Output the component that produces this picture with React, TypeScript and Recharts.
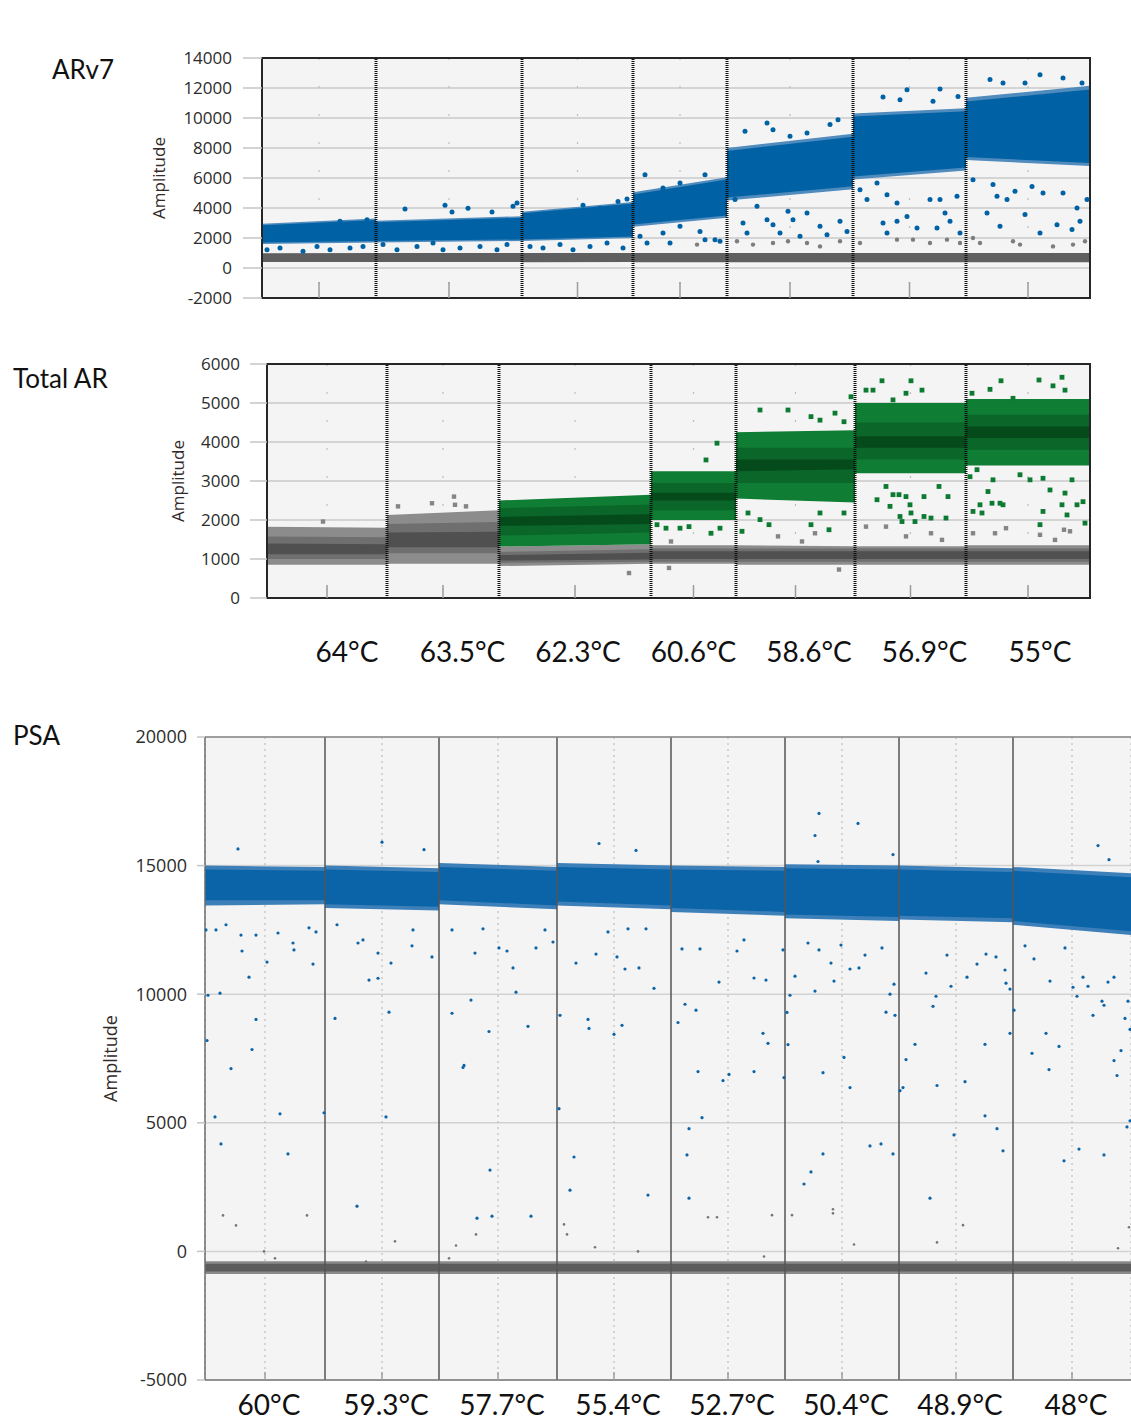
import React from "react";
import { ComposedChart, Area, Scatter, XAxis, YAxis, CartesianGrid, ReferenceLine, ReferenceArea } from "recharts";

// droplet event index where each well starts/ends
const AR_WELLS = [0, 11400, 26000, 37100, 46500, 59100, 70400, 82800];
const TA_WELLS = [0, 12000, 23200, 38400, 46900, 58800, 69900, 82300];
const PSA_WELLS = [0, 12000, 23400, 35200, 46600, 58000, 69400, 80800, 92600];

const TEMPS_AR = ["64°C", "63.5°C", "62.3°C", "60.6°C", "58.6°C", "56.9°C", "55°C"];
const TEMPS_PSA = ["60°C", "59.3°C", "57.7°C", "55.4°C", "52.7°C", "50.4°C", "48.9°C", "48°C"];

const AR_TICKS = [-2000, 0, 2000, 4000, 6000, 8000, 10000, 12000, 14000];
const TA_TICKS = [0, 1000, 2000, 3000, 4000, 5000, 6000];
const PSA_TICKS = [-5000, 0, 5000, 10000, 15000, 20000];

// cluster bands per well: [lo at start, lo at end, hi at start, hi at end]
type Seg = number[] | null;
const AR_POS_EDGE: Seg[] = [[1600, 1700, 2950, 3300], [1700, 1800, 3150, 3450], [1800, 2000, 3750, 4400], [2750, 3350, 5050, 6050], [4500, 5250, 8000, 8950], [5900, 6500, 10300, 10650], [7200, 6800, 11350, 12150]];
const AR_POS: Seg[] = [[1700, 1800, 2850, 3200], [1800, 1900, 3050, 3350], [1900, 2100, 3650, 4300], [2900, 3500, 4900, 5900], [4700, 5450, 7800, 8750], [6100, 6700, 10100, 10450], [7400, 7000, 11100, 11900]];
const AR_NEG: Seg[] = [[400, 400, 980, 1000], [400, 400, 1000, 1000], [380, 400, 1000, 1000], [380, 380, 1000, 1000], [380, 380, 1000, 1000], [380, 380, 1000, 1000], [380, 380, 1000, 1000]];

const TA_NEG_OUTER: Seg[] = [[850, 850, 1830, 1800], [880, 880, 2130, 2250], [820, 880, 1320, 1380], [880, 880, 1350, 1350], [850, 850, 1350, 1330], [850, 850, 1330, 1330], [850, 850, 1350, 1350]];
const TA_NEG_MID: Seg[] = [[1000, 1000, 1580, 1560], [1150, 1150, 1900, 1950], [900, 930, 1180, 1250], [930, 930, 1270, 1270], [930, 930, 1270, 1270], [930, 930, 1270, 1270], [930, 930, 1270, 1270]];
const TA_NEG_CORE: Seg[] = [[1120, 1120, 1400, 1380], [1300, 1300, 1680, 1700], [960, 990, 1100, 1160], [1000, 1000, 1200, 1200], [1000, 1000, 1200, 1200], [1000, 1000, 1200, 1200], [1000, 1000, 1200, 1200]];
const TA_POS_OUTER: Seg[] = [null, null, [1320, 1380, 2500, 2650], [2000, 2000, 3250, 3250], [2550, 2450, 4250, 4300], [3200, 3200, 5000, 5000], [3400, 3400, 5100, 5100]];
const TA_POS_MID: Seg[] = [null, null, [1600, 1680, 2300, 2400], [2250, 2250, 2950, 2950], [2950, 2950, 3850, 3850], [3550, 3550, 4500, 4500], [3800, 3800, 4700, 4700]];
const TA_POS_CORE: Seg[] = [null, null, [1850, 1900, 2080, 2150], [2500, 2500, 2700, 2700], [3250, 3300, 3550, 3550], [3850, 3850, 4150, 4150], [4100, 4100, 4400, 4400]];

const PSA_POS_OUTER: Seg[] = [[13450, 13500, 15000, 14950], [13350, 13250, 15000, 14900], [13500, 13300, 15100, 14950], [13450, 13300, 15100, 15000], [13200, 13050, 15000, 14950], [12950, 12850, 15050, 15000], [12900, 12800, 15000, 14900], [12700, 12300, 14950, 14700]];
const PSA_POS_CORE: Seg[] = [[13650, 13650, 14850, 14800], [13500, 13400, 14850, 14750], [13650, 13450, 14950, 14800], [13600, 13450, 14950, 14850], [13350, 13200, 14850, 14800], [13100, 13000, 14900, 14850], [13050, 12950, 14850, 14750], [12850, 12450, 14800, 14550]];
const PSA_NEG_OUTER: Seg[] = PSA_WELLS.slice(1).map(() => [-880, -880, -380, -380]);
const PSA_NEG_CORE: Seg[] = PSA_WELLS.slice(1).map(() => [-780, -780, -480, -480]);

// individual droplets outside the dense clusters: [event, amplitude]
const AR_POS_OUT = [[14300, 3930], [18300, 4180], [19000, 3730], [20600, 3990], [23000, 3730], [25100, 4110], [25500, 4330], [7800, 3110], [10500, 3220], [35600, 4440], [36500, 4600], [32100, 4180], [33800, 3990],
  [500, 1220], [1800, 1330], [4100, 1110], [5500, 1440], [6800, 1220], [8800, 1330], [10100, 1440], [12100, 1560], [13500, 1220], [15500, 1440], [17100, 1670], [18100, 1220], [19800, 1330], [21800, 1440], [23500, 1220], [24500, 1560], [26800, 1440], [28100, 1330], [29800, 1560], [31100, 1220], [32800, 1440], [34500, 1670], [36100, 1330],
  [37800, 2110], [38500, 1670], [40100, 2330], [40800, 1670], [41800, 2780], [43800, 2440], [44300, 1890], [45300, 1890], [45800, 1780], [38300, 6220], [40100, 5330], [41800, 5670], [44300, 6220],
  [48300, 9110], [50500, 9670], [51100, 9220], [52800, 8780], [54500, 9000], [56800, 9560], [57600, 9890], [47300, 4560], [48100, 3000], [48500, 2330], [49500, 4110], [50500, 3220], [51100, 2890], [51800, 2330], [53100, 3220], [53800, 2110], [54500, 3670], [55800, 2780], [56500, 2220], [57800, 3110], [58500, 2440], [52600, 3780],
  [62100, 11400], [63800, 11220], [64500, 11890], [67100, 11110], [67800, 11930], [69600, 11440], [59800, 5220], [60500, 4560], [61500, 5670], [62500, 4890], [63500, 4330], [62100, 3000], [63500, 3110], [62500, 2330], [64500, 3440], [65500, 2670], [66800, 4560], [67800, 4560], [68300, 3670], [68800, 3110], [69500, 4780], [69800, 2330], [67500, 2670],
  [72800, 12560], [74100, 12330], [76300, 12330], [77800, 12890], [80100, 12670], [82000, 12330], [71100, 5890], [73100, 5560], [73500, 4780], [72500, 3670], [73800, 2780], [74500, 4560], [75300, 5110], [76300, 3560], [77000, 5440], [78100, 5000], [79500, 2890], [80100, 5000], [81000, 2560], [81500, 4000], [81800, 3110], [82500, 4560], [77800, 2330]];
const AR_NEG_OUT = [[47500, 1780], [49100, 1560], [51100, 1670], [52600, 1780], [54500, 1670], [55800, 1440], [57800, 1780], [59800, 1670], [63500, 1890], [65100, 1890], [66800, 1670], [68500, 1890], [69800, 1670], [71100, 2000], [71800, 1670], [75100, 1780], [75800, 1560], [79100, 1440], [81100, 1560], [82300, 1780], [43500, 1560]];

const TA_POS_OUT = [[45000, 3970], [43900, 3540], [39900, 1790], [41300, 1790], [42200, 1830], [45300, 1790], [39000, 1880], [44400, 1660],
  [49300, 4820], [52100, 4820], [54400, 4650], [55300, 4560], [56800, 4740], [57700, 4520], [58400, 5160], [48100, 2180], [49300, 2010], [50200, 1880], [54400, 1880], [55300, 2180], [56200, 1750], [57700, 2180], [47500, 1710],
  [59900, 5330], [60600, 5330], [61500, 5570], [62600, 5080], [63900, 5250], [64400, 5570], [65500, 5330], [61900, 2860], [62600, 2650], [63200, 2650], [63900, 2600], [64300, 2390], [65700, 2600], [67200, 2860], [68100, 2600], [61000, 2520], [62300, 2350], [63300, 2090], [64400, 2180], [64800, 1960], [65700, 2090], [66400, 2050], [67900, 2050], [63500, 1960],
  [73400, 5570], [77200, 5590], [79500, 5660], [78600, 5440], [79800, 5330], [72300, 5350], [70500, 5250], [74600, 5120], [75300, 3160], [70300, 3110], [71000, 3290], [72600, 3030], [76300, 3030], [77600, 3070], [80500, 3030], [72100, 2730], [72500, 2430], [71300, 2390], [73300, 2430], [73600, 2390], [70600, 2220], [71500, 2180], [78300, 2770], [79800, 2690], [79500, 2390], [80000, 2130], [81000, 2390], [81600, 2470], [77600, 2220], [77300, 1880], [81800, 1920]];
const TA_NEG_OUT = [[5600, 1960], [13100, 2350], [16500, 2430], [18700, 2600], [18800, 2390], [19900, 2350], [51100, 1580], [53500, 1450], [54800, 1660], [59900, 1830], [61900, 1830], [63900, 1580], [66400, 1660], [67500, 1490], [70600, 1660], [72800, 1660], [73900, 1790], [79700, 1750], [80300, 1710], [40400, 1450], [36200, 640], [40200, 770], [57200, 730], [77300, 1620], [78800, 1490]];

const PSA_POS_OUT = [[100, 12500], [1100, 12500], [2100, 12700], [3600, 12300], [3700, 11680], [5100, 12300], [4400, 10660], [7300, 12380], [8800, 11990], [8900, 11720], [10400, 12580], [10800, 11170], [11100, 12420], [6200, 11250], [5100, 9020], [300, 9960], [1500, 10040], [200, 8200], [1000, 5230], [1600, 4180], [2600, 7110], [4700, 7850], [7500, 5350], [8300, 3790], [11900, 5390], [3300, 15650],
  [13000, 9060], [13200, 12700], [15300, 11990], [15800, 12110], [17300, 11600], [17300, 10620], [16400, 10550], [18400, 9300], [18600, 11210], [20700, 11880], [22700, 11450], [20800, 12500], [15200, 1760], [18100, 5230], [17700, 15910], [21900, 15620],
  [24700, 12500], [24700, 9260], [26600, 9770], [27000, 11600], [27800, 12540], [28400, 8550], [29400, 11800], [30200, 11680], [30800, 11020], [31100, 10080], [32300, 8750], [33100, 11800], [34000, 12500], [34800, 12030], [25800, 7150], [25900, 7230], [28500, 3160], [27200, 1290], [28700, 1370], [32600, 1370],
  [35400, 5550], [36900, 3670], [36500, 2380], [44300, 2190], [35500, 9180], [37100, 11210], [39100, 11560], [41200, 11450], [42000, 10980], [43400, 11020], [44900, 10230], [38300, 9020], [38400, 8670], [40900, 8440], [41700, 8790], [40300, 12420], [42300, 12540], [44100, 12540], [39400, 15860], [43100, 15590],
  [47300, 8900], [48000, 9610], [49100, 9380], [47700, 11760], [49500, 11760], [51400, 10470], [53200, 11680], [54900, 10630], [56100, 10550], [55800, 8480], [56300, 8090], [57800, 11720], [53900, 12110], [49300, 6990], [49700, 5200], [48400, 4770], [48200, 3750], [48400, 2070], [51800, 6640], [52400, 6880], [54900, 6990], [57900, 6760],
  [61400, 17030], [61000, 16170], [65300, 16640], [61300, 15160], [60300, 11990], [61400, 11720], [62600, 11210], [63600, 11910], [64500, 10980], [65400, 11020], [66000, 11520], [67700, 11800], [62900, 10510], [61000, 10120], [58500, 9960], [59000, 10700], [58200, 9290], [68100, 9300], [68500, 10000], [69000, 9180], [68900, 10390], [68800, 15430], [58300, 8040], [59900, 2620], [60600, 3090], [61800, 3790], [61800, 6950], [63900, 7540], [64500, 6370], [66500, 4100], [67600, 4180], [68800, 3790],
  [71000, 8050], [72100, 10820], [73100, 9920], [72800, 9530], [74200, 11520], [74600, 10310], [76200, 10660], [77200, 11170], [78000, 8050], [78100, 11560], [79100, 11450], [80000, 10940], [80100, 10430], [80500, 10200], [80500, 8480], [69500, 6250], [69800, 6370], [70100, 7460], [72500, 2070], [73200, 6450], [74900, 4530], [76000, 6600], [78000, 5270], [79200, 4770], [79800, 3910],
  [80900, 9380], [82000, 11880], [82900, 11370], [84500, 10510], [84100, 8480], [86000, 11800], [86800, 10270], [87200, 9920], [87800, 10660], [88300, 10310], [88800, 9180], [89700, 9730], [89900, 9570], [90300, 10470], [89300, 15780], [90400, 15230], [92000, 9060], [92500, 8630], [92300, 9730], [90900, 10660], [82700, 7700], [84400, 7070], [85400, 7970], [85900, 3520], [87400, 3980], [89900, 3750], [90900, 7420], [91200, 6840], [91600, 7810], [92200, 4840], [92500, 5080]];
const PSA_NEG_OUT = [[1800, 1400], [3100, 1010], [10200, 1400], [5900, 0], [7000, -270], [19000, 390], [16100, -390], [27100, 660], [25100, 230], [24400, -270], [35900, 1050], [36200, 660], [39000, 160], [43300, 0], [50300, 1330], [51200, 1330], [56700, 1410], [55900, -200], [62800, 1640], [62800, 1480], [58700, 1410], [64900, 270], [75800, 1020], [73200, 350], [91300, 120], [92400, 940]];

const TICK_FONT = "'Open Sans', 'DejaVu Sans', sans-serif";
const LABEL_FONT = "Lato, 'Open Sans', sans-serif";

function buildRows(wells: number[], layers: Record<string, Seg[]>) {
  const rows: any[] = [];
  for (let i = 0; i < wells.length - 1; i++) {
    const s: any = { e: wells[i] };
    const t: any = { e: wells[i + 1] };
    for (const k of Object.keys(layers)) {
      const seg = layers[k][i];
      s[k] = seg ? [seg[0], seg[2]] : null;
      t[k] = seg ? [seg[1], seg[3]] : null;
    }
    rows.push(s, t);
  }
  return rows;
}
const mids = (w: number[]) => w.slice(0, -1).map((v, i) => (v + w[i + 1]) / 2);
const toPts = (arr: number[][]) => arr.map(([e, a]) => ({ e, a }));

const dotShape = (color: string, r: number, square = false) => (p: any) =>
  square
    ? <rect x={p.cx - r} y={p.cy - r} width={r * 2} height={r * 2} fill={color} />
    : <circle cx={p.cx} cy={p.cy} r={r} fill={color} />;

const AxisTitle = ({ viewBox, cx, size }: any) => {
  const cy = viewBox.y + viewBox.height / 2;
  return (
    <text x={cx} y={cy} transform={`rotate(-90 ${cx} ${cy})`} textAnchor="middle" dominantBaseline="central"
      fontSize={size} fontFamily={TICK_FONT} fill="#332a2a">Amplitude</text>
  );
};

const InnerTick = ({ x, y, index, len, labels }: any) => (
  <g>
    <line x1={x} x2={x} y1={y - len} y2={y} stroke="#9c9c9c" strokeWidth={1.5} />
    {labels && (
      <text x={x + 4} y={y + 35} textAnchor="middle" fontSize={28} fontFamily={LABEL_FONT} fill="#111">{labels[index]}</text>
    )}
  </g>
);

type Layer = { key: string; color: string };
type Dots = { data: number[][]; color: string; r: number; square?: boolean };

interface PanelProps {
  top: number; height: number;
  margin: { top: number; right: number; bottom: number; left: number };
  wells: number[]; yDomain: [number, number]; yTicks: number[];
  segs: Record<string, Seg[]>; layers: Layer[]; dots: Dots[];
  yTickSize: number; yTickMargin: number; yFont: number; titleX: number;
  gridColor: string; vDash: string; tickLen: number;
  sepStroke: string; sepWidth: number; sepDash?: string;
  frame: boolean; labels?: string[];
}

function Panel(p: PanelProps) {
  const rows = buildRows(p.wells, p.segs);
  const xMax = p.wells[p.wells.length - 1];
  return (
    <div style={{ position: "absolute", left: 0, top: p.top }}>
      <ComposedChart width={1131} height={p.height} data={rows} margin={p.margin}>
        <CartesianGrid horizontal vertical={false} stroke={p.gridColor} strokeWidth={1.5} fill="#f4f4f4" fillOpacity={1} />
        <CartesianGrid horizontal={false} vertical stroke="#bdbdbd" strokeWidth={1.2} strokeDasharray={p.vDash} />
        <XAxis type="number" dataKey="e" domain={[0, xMax]} ticks={mids(p.wells)} interval={0} allowDataOverflow
          height={1} tickSize={0} tickMargin={0} tickLine={false}
          axisLine={p.frame ? false : { stroke: "#7a7a7a", strokeWidth: 1.5 }}
          tick={(t: any) => <InnerTick {...t} len={p.tickLen} labels={p.labels} />} />
        <YAxis type="number" domain={p.yDomain} ticks={p.yTicks} interval={0} allowDataOverflow width={100}
          tickSize={p.yTickSize} tickMargin={p.yTickMargin}
          tickLine={{ stroke: "#c4c4c4", strokeWidth: 1.5 }}
          axisLine={p.frame ? false : { stroke: "#6c6c6c", strokeWidth: 1.5 }}
          tick={{ fontSize: p.yFont, fontFamily: TICK_FONT, fill: "#2c2c2c" }}
          label={<AxisTitle cx={p.titleX} size={p.yFont} />} />
        {p.layers.map((l) => (
          <Area key={l.key} dataKey={l.key} type="linear" stroke="none" fill={l.color} fillOpacity={1}
            dot={false} activeDot={false} isAnimationActive={false} />
        ))}
        {p.dots.map((d, i) => (
          <Scatter key={i} data={toPts(d.data)} dataKey="a" shape={dotShape(d.color, d.r, d.square)} isAnimationActive={false} />
        ))}
        {p.wells.slice(1, -1).map((b) => (
          <ReferenceLine key={b} x={b} stroke={p.sepStroke} strokeWidth={p.sepWidth} strokeDasharray={p.sepDash} />
        ))}
        {p.frame ? (
          <ReferenceArea x1={0} x2={xMax} y1={p.yDomain[0]} y2={p.yDomain[1]} fill="none" stroke="#262626" strokeWidth={2} />
        ) : (
          <ReferenceLine y={p.yDomain[1]} stroke="#8a8a8a" strokeWidth={1.5} />
        )}
      </ComposedChart>
    </div>
  );
}

const titleStyle: React.CSSProperties = { position: "absolute", fontFamily: LABEL_FONT, fontSize: 26, lineHeight: 1, color: "#111", whiteSpace: "nowrap" };

export default function App() {
  return (
    <div style={{ position: "absolute", left: 0, top: 0, width: 1131, height: 1420, overflow: "hidden", background: "#fff" }}>
      <Panel top={0} height={330} margin={{ top: 58, right: 41, bottom: 31, left: 162 }}
        wells={AR_WELLS} yDomain={[-2000, 14000]} yTicks={AR_TICKS}
        segs={{ neg: AR_NEG, edge: AR_POS_EDGE, pos: AR_POS }}
        layers={[{ key: "neg", color: "#5f5f5f" }, { key: "edge", color: "#4f8bbd" }, { key: "pos", color: "#0062a4" }]}
        dots={[{ data: AR_NEG_OUT, color: "#7d7d7d", r: 2.2 }, { data: AR_POS_OUT, color: "#0062a4", r: 2.5 }]}
        yTickSize={19} yTickMargin={11} yFont={17} titleX={158}
        gridColor="#cacaca" vDash="2 26" tickLen={16}
        sepStroke="#111" sepWidth={3} sepDash="1 1" frame />
      <Panel top={330} height={290} margin={{ top: 34, right: 41, bottom: 21, left: 167 }}
        wells={TA_WELLS} yDomain={[0, 6000]} yTicks={TA_TICKS}
        segs={{ nO: TA_NEG_OUTER, nM: TA_NEG_MID, nC: TA_NEG_CORE, pO: TA_POS_OUTER, pM: TA_POS_MID, pC: TA_POS_CORE }}
        layers={[
          { key: "nO", color: "#8c8c8c" }, { key: "nM", color: "#6f6f6f" }, { key: "nC", color: "#505050" },
          { key: "pO", color: "#0f7d33" }, { key: "pM", color: "#0a6629" }, { key: "pC", color: "#054a1a" },
        ]}
        dots={[{ data: TA_NEG_OUT, color: "#858585", r: 2.2, square: true }, { data: TA_POS_OUT, color: "#0c7a30", r: 2.4, square: true }]}
        yTickSize={17} yTickMargin={10} yFont={17} titleX={177}
        gridColor="#cacaca" vDash="2 26" tickLen={13}
        sepStroke="#111" sepWidth={3} sepDash="1 1" frame />
      {TEMPS_AR.map((t, i) => (
        <div key={t} style={{ ...titleStyle, fontSize: 28, top: 637, left: 347 + i * 115.5, transform: "translateX(-50%)" }}>{t}</div>
      ))}
      <Panel top={690} height={730} margin={{ top: 47, right: 0, bottom: 39, left: 105 }}
        wells={PSA_WELLS} yDomain={[-5000, 20000]} yTicks={PSA_TICKS}
        segs={{ nO: PSA_NEG_OUTER, nC: PSA_NEG_CORE, pO: PSA_POS_OUTER, pC: PSA_POS_CORE }}
        layers={[
          { key: "nO", color: "#8a8a8a" }, { key: "nC", color: "#5c5c5c" },
          { key: "pO", color: "#3d7fb8" }, { key: "pC", color: "#0b64a8" },
        ]}
        dots={[{ data: PSA_NEG_OUT, color: "#777", r: 1.3 }, { data: PSA_POS_OUT, color: "#0b64a8", r: 1.6 }]}
        yTickSize={8} yTickMargin={10} yFont={18} titleX={110}
        gridColor="#d2d2d2" vDash="2 4" tickLen={8}
        sepStroke="#555" sepWidth={1.5} frame={false} labels={TEMPS_PSA} />
      <div style={{ ...titleStyle, left: 52, top: 56 }}>ARv7</div>
      <div style={{ ...titleStyle, left: 13, top: 365 }}>Total AR</div>
      <div style={{ ...titleStyle, left: 13, top: 722 }}>PSA</div>
    </div>
  );
}
